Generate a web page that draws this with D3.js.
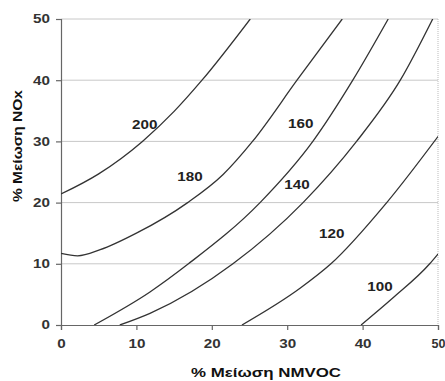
<!DOCTYPE html>
<html><head><meta charset="utf-8">
<script src="https://cdn.jsdelivr.net/npm/d3@7"></script>
<style>
html,body{margin:0;padding:0;background:#fff;}
svg text{font-family:"Liberation Sans",Arial,sans-serif;font-weight:bold;}
</style></head>
<body><svg id="c" width="445" height="381"></svg>
<script>
// Data (x = % NMVOC reduction, y = % NOx reduction)
const xTicks = [0,10,20,30,40,50];
const yTicks = [0,10,20,30,40,50];
const levels = [200,180,160,140,120,100];
const curve200 = [[0,21.4],[5,24.7],[10.8,30],[15,34.9],[18.7,40],[25.1,50]];
const curve180 = [[0,11.7],[2.2,11.3],[5.2,12.3],[10,15.0],[16.8,20],[21.5,24.6],[25.4,30],[31.3,40],[37.3,50]];
const curve160 = [[4.4,0],[11.8,5.4],[16.9,10],[26.4,20],[33.4,30],[38.7,40],[43.4,50]];
const curve140 = [[7.8,0],[11.8,1.9],[22.8,10],[32.1,20],[39.2,30],[45.0,40],[49.3,50]];
const curve120 = [[24.0,0],[31.7,6.0],[35.8,10],[43.2,20],[50,30.8]];
const curve100 = [[39.8,0],[44,4.4],[48.9,10],[50,11.6]];
const curves = [curve200,curve180,curve160,curve140,curve120,curve100];
const labelPos = [[11.1,32.7],[17.1,24.2],[31.8,32.8],[31.3,22.9],[35.9,14.9],[42.3,6.2]];
const xTitle = "% Μείωση NMVOC";
const yTitle = "% Μείωση NOx";

const svg = d3.select("#c");
const L=61, R=438, T=19, B=325;
const SX = 1.27; // horizontal stretch of the lettering
const x = d3.scaleLinear().domain([0,50]).range([L,R]);
const y = d3.scaleLinear().domain([0,50]).range([B,T]);

// gridlines
svg.append("g").selectAll("line").data(yTicks.filter(d=>d>0)).join("line")
  .attr("x1",L).attr("x2",R).attr("y1",d=>y(d)).attr("y2",d=>y(d))
  .attr("stroke","#c8c8c8").attr("stroke-width",1);
// right border
svg.append("line").attr("x1",R).attr("x2",R).attr("y1",T).attr("y2",B)
  .attr("stroke","#bbb").attr("stroke-width",1).attr("stroke-dasharray","1,1");

// axes
const xa = svg.append("g").attr("transform",`translate(0,${B})`)
  .call(d3.axisBottom(x).tickValues(xTicks).tickSize(5).tickPadding(9));
const ya = svg.append("g").attr("transform",`translate(${L},0)`)
  .call(d3.axisLeft(y).tickValues(yTicks).tickSize(5).tickPadding(9));
[xa,ya].forEach(a=>{
  a.select(".domain").attr("stroke","#666").attr("stroke-width",1.2);
  a.selectAll(".tick line").attr("stroke","#666").attr("stroke-width",1.2);
  a.selectAll("text").attr("fill","#333").style("font-size","12px").style("font-weight","bold")
   .style("font-family","'Liberation Sans',Arial,sans-serif");
});
xa.selectAll(".tick text").attr("transform",d=>d===50?"scale(1.05,1)":`scale(${SX},1)`)
  .attr("text-anchor",d=>d===50?"end":"middle").attr("x",d=>d===50?6.6:0);
ya.selectAll(".tick text").attr("x",-11/SX).attr("transform",`scale(${SX},1)`);

// clip
svg.append("clipPath").attr("id","clp").append("rect")
  .attr("x",L).attr("y",T).attr("width",R-L).attr("height",B-T);

const line = d3.line().x(d=>x(d[0])).y(d=>y(d[1])).curve(d3.curveMonotoneX);
svg.append("g").attr("clip-path","url(#clp)").selectAll("path").data(curves).join("path")
  .attr("d",line).attr("fill","none").attr("stroke","#333").attr("stroke-width",1.3);

// labels
svg.append("g").selectAll("g").data(levels).join("g")
  .attr("transform",(d,i)=>`translate(${x(labelPos[i][0])},${y(labelPos[i][1])}) scale(${SX},1)`)
  .append("text").attr("text-anchor","middle").attr("dominant-baseline","central")
  .attr("fill","#222").style("font-size","12px").text(d=>d);

// titles
svg.append("text").attr("x",266).attr("y",377).attr("text-anchor","middle")
  .attr("fill","#111").style("font-size","13px")
  .attr("textLength",150).attr("lengthAdjust","spacingAndGlyphs").text(xTitle);
svg.append("text").attr("transform","translate(22,146) rotate(-90)").attr("text-anchor","middle")
  .attr("fill","#111").style("font-size","13px")
  .attr("textLength",112).attr("lengthAdjust","spacingAndGlyphs").text(yTitle);
</script></body></html>
